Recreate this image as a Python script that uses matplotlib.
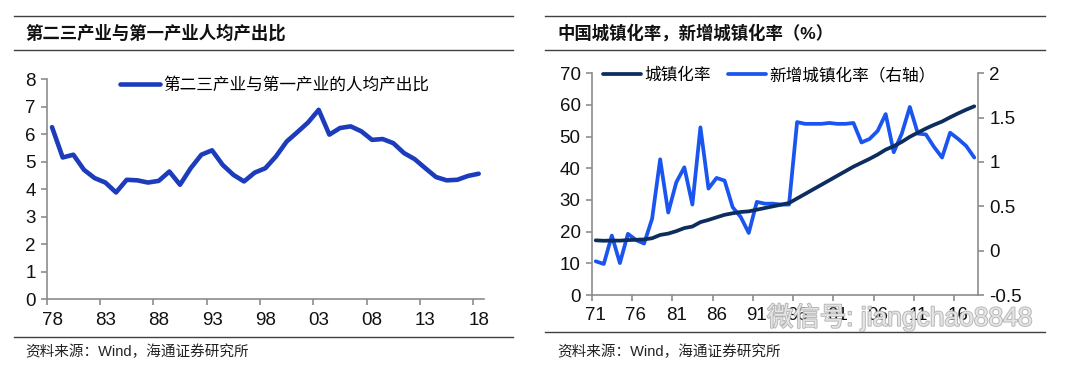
import matplotlib
matplotlib.use("Agg")
import matplotlib.pyplot as plt
import matplotlib.patheffects as pe
from matplotlib.lines import Line2D
import numpy as np

plt.rcParams['font.family'] = ['Liberation Sans', 'Noto Sans CJK SC', 'DejaVu Sans']

# ---------------- data ----------------
years_left = list(range(1978, 2019))
ratio = [6.25, 5.15, 5.25, 4.70, 4.40, 4.24, 3.88, 4.34, 4.32, 4.24,
         4.30, 4.64, 4.16, 4.76, 5.25, 5.41, 4.88, 4.52, 4.28, 4.60,
         4.76, 5.19, 5.73, 6.07, 6.42, 6.88, 5.98, 6.22, 6.28, 6.10,
         5.79, 5.82, 5.67, 5.31, 5.09, 4.76, 4.44, 4.32, 4.34, 4.48,
         4.56]
left_tick_labels = ['78', '83', '88', '93', '98', '03', '08', '13', '18']

years_right = list(range(1971, 2019))
urban_rate = [17.26, 17.13, 17.20, 17.16, 17.34, 17.44, 17.55, 17.92, 18.96, 19.39,
              20.16, 21.13, 21.62, 23.01, 23.71, 24.52, 25.32, 25.81, 26.21, 26.41,
              26.94, 27.46, 27.99, 28.51, 29.04, 30.48, 31.91, 33.35, 34.78, 36.22,
              37.66, 39.09, 40.53, 41.76, 42.99, 44.34, 45.89, 46.99, 48.34, 49.95,
              51.27, 52.57, 53.73, 54.77, 56.10, 57.35, 58.52, 59.58]
urban_new = [-0.12, -0.15, 0.17, -0.14, 0.19, 0.12, 0.08, 0.36, 1.03, 0.43,
             0.77, 0.94, 0.52, 1.39, 0.70, 0.82, 0.79, 0.49, 0.38, 0.20,
             0.55, 0.53, 0.53, 0.52, 0.52, 1.45, 1.43, 1.43, 1.43, 1.44,
             1.43, 1.43, 1.44, 1.22, 1.26, 1.35, 1.54, 1.11, 1.32, 1.62,
             1.32, 1.31, 1.17, 1.05, 1.33, 1.26, 1.18, 1.05]
right_tick_labels = ['71', '76', '81', '86', '91', '96', '01', '06', '11', '16']

W, H = 1080, 369
fig = plt.figure(figsize=(W / 100, H / 100), dpi=100)

def fx(px):
    return px / W

def fy(py):
    return 1 - py / H

CJK = ['Liberation Sans', 'Noto Sans CJK SC', 'DejaVu Sans']
SPINE = '#8c8c8c'

def hrule(x0, x1, y):
    fig.add_artist(Line2D([fx(x0), fx(x1)], [fy(y), fy(y)], color='#404040', lw=1.0,
                          transform=fig.transFigure))

# ---------------- panel frames ----------------
for (x0, x1, ybot) in [(14, 513, 337), (545, 1045, 332)]:
    hrule(x0, x1, 16)
    hrule(x0, x1, 50)
    hrule(x0, x1, ybot)

fig.text(fx(25), fy(33), '第二三产业与第一产业人均产出比', fontsize=12.5, fontweight='bold',
         family=CJK, va='center', ha='left', color='#111111')
fig.text(fx(557), fy(33), '中国城镇化率，新增城镇化率（%）', fontsize=12.5, fontweight='bold',
         family=CJK, va='center', ha='left', color='#111111')
fig.text(fx(25), fy(352), '资料来源：Wind，海通证券研究所', fontsize=10.5,
         family=CJK, va='center', ha='left', color='#222222')
fig.text(fx(557), fy(352), '资料来源：Wind，海通证券研究所', fontsize=10.5,
         family=CJK, va='center', ha='left', color='#222222')

def style_axis(ax):
    for s in ['top', 'right']:
        ax.spines[s].set_visible(False)
    for s in ['left', 'bottom']:
        ax.spines[s].set_color(SPINE)
        ax.spines[s].set_linewidth(1.2)
    ax.tick_params(axis='both', which='major', color=SPINE, length=4, width=1.2,
                   labelsize=13.5, labelcolor='#111111', direction='out')

# ---------------- left chart ----------------
axL = fig.add_axes([fx(46.7), fy(299.3), fx(484 - 46.7), (299.3 - 79) / H])
axL.plot(years_left, ratio, color='#1c3cbc', lw=3.3, solid_joinstyle='round',
         solid_capstyle='round', label='第二三产业与第一产业的人均产出比')
axL.set_xlim(1977.5, 2018.5)
axL.set_ylim(0, 8)
axL.set_yticks(range(0, 9))
style_axis(axL)
label_years_L = [1978 + 5 * i for i in range(len(left_tick_labels))]
axL.set_xticks([y - 0.5 for y in label_years_L])
axL.set_xticklabels([''] * len(label_years_L))
axL.set_xticks(label_years_L, minor=True)
axL.set_xticklabels(left_tick_labels, minor=True)
axL.tick_params(axis='x', which='minor', length=0, labelsize=13.5, pad=9, labelcolor='#111111')
axL.tick_params(axis='y', pad=4)
legL = axL.legend(loc='center left', bbox_to_anchor=((120 - 46.7) / (484 - 46.7), (299.3 - 85) / 220.3),
                  frameon=False, borderpad=0, borderaxespad=0, handlelength=2.4,
                  handletextpad=0.2, prop={'family': CJK, 'size': 12})

# ---------------- right chart ----------------
axR = fig.add_axes([fx(591.7), fy(295), fx(978.3 - 591.7), (295 - 73.3) / H])
axR2 = axR.twinx()
l1, = axR.plot(years_right, urban_rate, color='#0d2d5e', lw=2.7, solid_joinstyle='round',
               solid_capstyle='round', label='城镇化率', zorder=3)
l2, = axR2.plot(years_right, urban_new, color='#1a55f0', lw=2.7, solid_joinstyle='round',
                solid_capstyle='round', label='新增城镇化率（右轴）', zorder=2)
axR.set_zorder(axR2.get_zorder() + 1)
axR.patch.set_visible(False)
axR.set_xlim(1970.5, 2018.5)
axR.set_ylim(0, 70)
axR.set_yticks(range(0, 71, 10))
axR2.set_ylim(-0.5, 2)
axR2.set_yticks([-0.5, 0, 0.5, 1, 1.5, 2])
axR2.set_yticklabels(['-0.5', '0', '0.5', '1', '1.5', '2'])
style_axis(axR)
for s in ['top', 'left', 'bottom']:
    axR2.spines[s].set_visible(False)
axR2.spines['right'].set_color(SPINE)
axR2.spines['right'].set_linewidth(1.2)
axR2.tick_params(axis='y', color=SPINE, length=4, width=1.2, labelsize=13.5,
                 labelcolor='#111111', direction='out', pad=4)
label_years_R = [1971 + 5 * i for i in range(len(right_tick_labels))]
axR.set_xticks([y - 0.5 for y in label_years_R])
axR.set_xticklabels([''] * len(label_years_R))
axR.set_xticks(label_years_R, minor=True)
axR.set_xticklabels(right_tick_labels, minor=True)
axR.tick_params(axis='x', which='minor', length=0, labelsize=13.5, pad=9, labelcolor='#111111')
axR.tick_params(axis='y', pad=4)
axR.legend(handles=[l1, l2], loc='center left',
           bbox_to_anchor=((603 - 591.7) / 386.6, (295 - 75) / 221.7),
           ncol=2, frameon=False, borderpad=0, borderaxespad=0, handlelength=2.3,
           handletextpad=0.2, columnspacing=1.0, prop={'family': CJK, 'size': 12})

# watermark (overlays the tick labels as in the original image)
fig.text(fx(767), fy(317), '微信号: jiangchao8848', fontsize=19, family=CJK,
         va='center', ha='left', color='#ececec', alpha=0.85,
         path_effects=[pe.withStroke(linewidth=1.3, foreground='#a8a8a8')], zorder=10)

fig.savefig('out.png', dpi=100)
